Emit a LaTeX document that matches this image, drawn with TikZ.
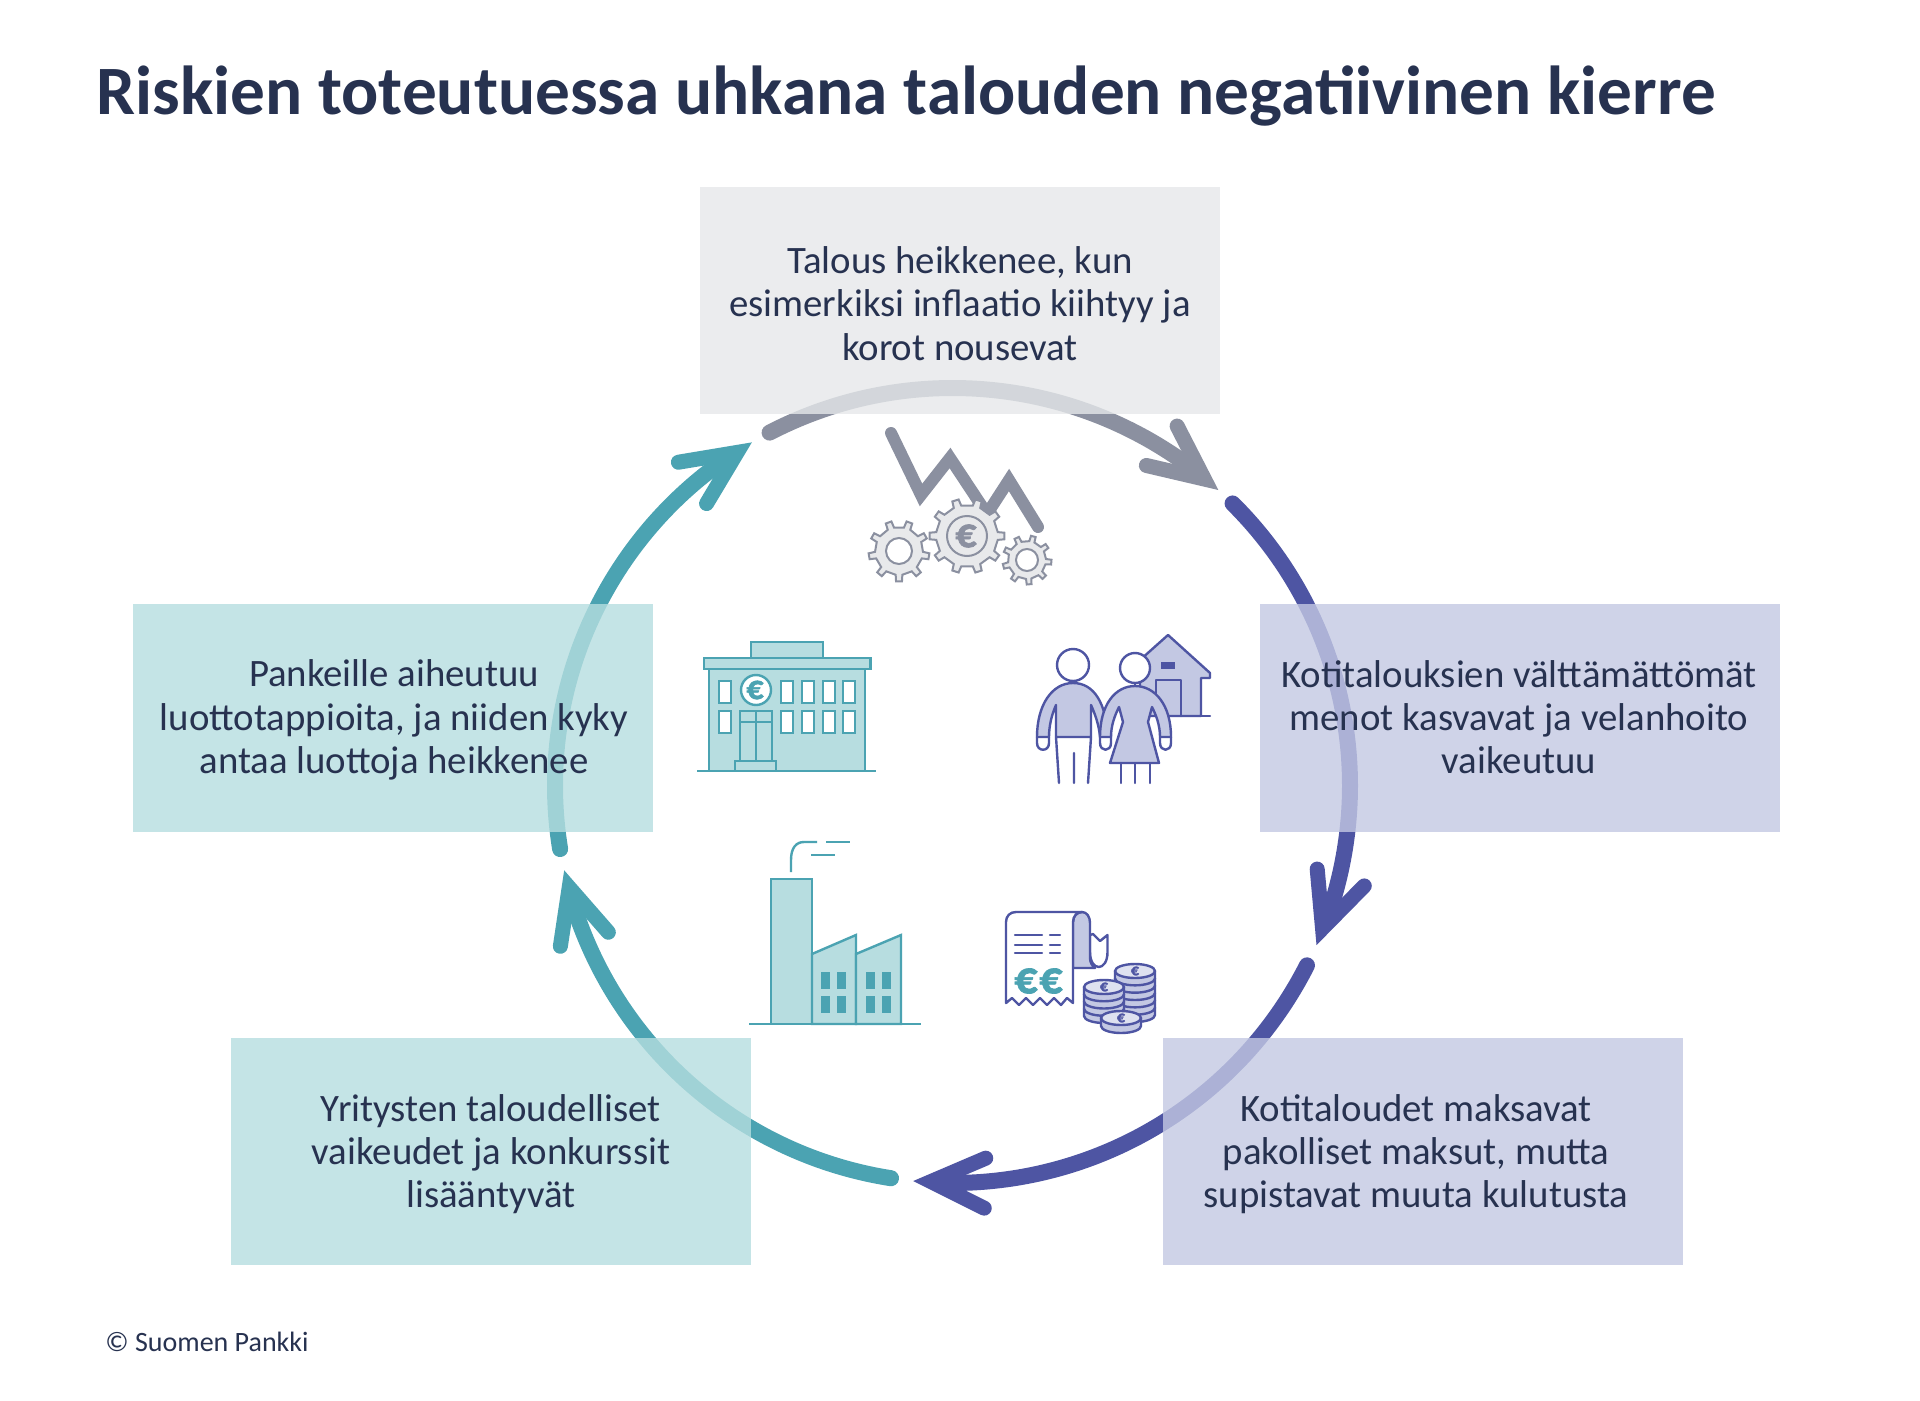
\documentclass[tikz,border=0pt]{standalone}
\usepackage{fontspec}
\setmainfont{Carlito}
\newfontfamily\eurofont[FakeBold=1.5]{Carlito Bold}
\definecolor{ink}{HTML}{273250}
\definecolor{grayA}{HTML}{8B90A0}
\definecolor{blueA}{HTML}{4E55A3}
\definecolor{tealA}{HTML}{4BA3B2}
\definecolor{grayB}{HTML}{E6E8EA}
\definecolor{blueB}{HTML}{C4C9E3}
\definecolor{tealB}{HTML}{B6DEE0}
\definecolor{iconT}{HTML}{B7DDE0}
\definecolor{iconB}{HTML}{C3C8E3}
\definecolor{iconG}{HTML}{E8E9EB}
\tikzset{
 x=0.5pt,y=-0.5pt,
 panel/.style={anchor=north west,inner sep=0pt,minimum width=260pt,minimum height=113.75pt,fill opacity=0.8,draw=none},
 lab/.style={text=ink,align=center,font=\fontsize{19.4}{21.65}\selectfont,inner sep=0pt},
 tealline/.style={draw=tealA,line width=1.2pt,line join=miter},
 blueline/.style={draw=blueA,line width=1.2pt,line join=round,line cap=round},
 grayline/.style={draw=grayA,line width=1pt,line join=miter},
}
\newcommand{\ringarrow}[4]{% colour, start angle, end angle, name
 \pgfmathsetmacro{\sx}{952.5+397.5*cos(#2)}\pgfmathsetmacro{\sy}{785.5+397.5*sin(#2)}
 \pgfmathsetmacro{\tx}{952.5+397.5*cos(#3)}\pgfmathsetmacro{\ty}{785.5+397.5*sin(#3)}
 \coordinate (#4s) at (\sx,\sy);
 \coordinate (#4e) at (\tx,\ty);
 \draw[#1,line width=8pt,line cap=round] (#4s) arc[start angle=#2,end angle=#3-4,radius=397.5];
 \begin{scope}[shift={(#4e)},rotate=-#3-90+4]
  \draw[#1,line width=7.5pt,line cap=round,line join=miter] (-72,-25) -- (-18,0) -- (-72,25);
 \end{scope}
}
\newcommand{\gearshape}[6]{% cx,cy,ro,rr,n,phase
 \begin{scope}[shift={(#1,#2)}]
 \filldraw[fill=iconG,grayline] ({#6-360/#5*0.2}:#4)
  \foreach \k in {1,...,#5}{
   -- ({#6+(\k-1)*360/#5-360/#5*0.2}:#4) -- ({#6+(\k-1)*360/#5-360/#5*0.14}:#3) -- ({#6+(\k-1)*360/#5+360/#5*0.14}:#3) -- ({#6+(\k-1)*360/#5+360/#5*0.2}:#4)
  } -- cycle;
 \end{scope}
}
\newcommand{\coinstack}[4]{% cx, top y, bottom y, layers
 \pgfmathsetmacro{\stepy}{(#3-#2)/#4}
 \foreach \i in {#4,...,1}{
   \pgfmathsetmacro{\yy}{#2+\i*\stepy}
   \filldraw[blueline,fill=iconB] (#1-20,\yy-\stepy) -- (#1-20,\yy) arc[start angle=180,end angle=0,x radius=20,y radius=7] -- (#1+20,\yy-\stepy) -- cycle;
 }
 \filldraw[blueline,fill=iconB!55!white] (#1,#2) ellipse[x radius=20,y radius=7];
 \node[text=blueA,font=\fontsize{8}{8}\eurofont,inner sep=0pt] (c#1) at (#1,#2) {€};
}
\begin{document}
\begin{tikzpicture}
\useasboundingbox (0,0) rectangle (1920,1401);
\fill[white] (0,0) rectangle (1920,1401);
% ring
\ringarrow{grayA}{-117.4}{-48.0}{a}
\ringarrow{blueA}{-45.2}{23.7}{b}
\ringarrow{blueA}{26.9}{95.7}{c}
\ringarrow{tealA}{98.9}{167.7}{d}
\ringarrow{tealA}{170.8}{239.7}{e}
% panels
\node[panel,fill=grayB] (pTop) at (700,186.5) {};
\node[panel,fill=blueB] (pRight) at (1260,604) {};
\node[panel,fill=tealB] (pLeft) at (133,604) {};
\node[panel,fill=tealB] (pBL) at (231,1037.5) {};
\node[panel,fill=blueB] (pBR) at (1163,1037.5) {};
% labels
\node[lab] (tTop) at (960,303.5) {Talous heikkenee, kun\\esimerkiksi inflaatio kiihtyy ja\\korot nousevat};
\node[lab] (tRight) at (1519,717) {Kotitalouksien välttämättömät\\menot kasvavat ja velanhoito\\vaikeutuu};
\node[lab] (tLeft) at (394,720) {Pankeille aiheutuu\\luottotappioita, ja niiden kyky\\antaa luottoja heikkenee};
\node[lab] (tBL) at (491,1154) {Yritysten taloudelliset\\vaikeudet ja konkurssit\\lisääntyvät};
\node[lab] (tBR) at (1416,1154) {Kotitaloudet maksavat\\pakolliset maksut, mutta\\supistavat muuta kulutusta};
\node[anchor=base west,inner sep=0pt,text=ink,font=\fontsize{34.65}{34.65}\selectfont\bfseries] (title) at (96,115) {Riskien toteutuessa uhkana talouden negatiivinen kierre};
\node[anchor=base west,inner sep=0pt,text=ink,font=\fontsize{14}{14}\selectfont] (copy) at (105,1351) {© Suomen Pankki};
% zigzag and gears
\draw[grayA,line width=6pt,line cap=round,line join=miter] (891,433) -- (921,495) -- (950,458) -- (987,514) -- (1009,480) -- (1038,527);
\gearshape{899}{551}{30.5}{24}{9}{10}
\gearshape{967}{536}{37.5}{31}{10}{0}
\gearshape{1027}{560}{24.5}{19}{9}{5}
\filldraw[fill=white,grayline] (899,551) circle[radius=13];
\filldraw[fill=white,grayline] (1027,560) circle[radius=11];
\draw[grayline] (967,536) circle[radius=20];
\node[text=grayA,font=\fontsize{21}{21}\eurofont,inner sep=0pt] (gEuro) at (966,536) {€};
% bank
\begin{scope}[shift={(0,-1)}]
\filldraw[tealline,fill=iconT] (751,643) rectangle (823,659);
\filldraw[tealline,fill=iconT] (709,670) rectangle (865,772);
\filldraw[tealline,fill=iconT] (704,659) rectangle (870.5,670);
\foreach \wx/\wi in {719/a,781/b,802/c,823/d,843/e}{
 \filldraw[tealline,fill=white] (\wx,682) rectangle ++(12,22);
 \filldraw[tealline,fill=white] (\wx,712) rectangle ++(12,22);
}
\filldraw[tealline,fill=white] (756,691) circle[radius=15];
\node[text=tealA,font=\fontsize{17}{17}\eurofont,inner sep=0pt] (bEuro) at (755,691) {€};
\draw[tealline] (740,762) -- (740,712) -- (772,712) -- (772,762) (740,723) -- (772,723) (756,712) -- (756,762);
\filldraw[tealline,fill=iconT] (735,772) -- (735,762) -- (776,762) -- (776,772);
\draw[tealline] (697,772) -- (876,772);
\end{scope}
% factory
\filldraw[tealline,fill=iconT] (771,1024) -- (771,879) -- (812,879) -- (812,1024) -- cycle;
\filldraw[tealline,fill=iconT] (812,1024) -- (812,954) -- (856,935) -- (856,1024) -- cycle;
\filldraw[tealline,fill=iconT] (856,1024) -- (856,954) -- (901,935) -- (901,1024) -- cycle;
\foreach \wx in {821,836.5,866,882}{
 \fill[tealA] (\wx,972) rectangle ++(9,17);
 \fill[tealA] (\wx,996) rectangle ++(9,17);
}
\draw[tealline] (749,1024) -- (921,1024);
\draw[tealline] (791,872) -- (791,860) .. controls (791,848) and (796,842) .. (804,842) -- (817,842);
\draw[tealline] (826,842) -- (850,842) (811,855) -- (835,855);
% family
\filldraw[blueline,fill=iconB] (1140,660) -- (1168,635) -- (1210,673) -- (1210,678) -- (1201,678) -- (1201,716) -- (1140,716) -- cycle;
\draw[blueline] (1156,716) -- (1156,680) -- (1181,680) -- (1181,716) (1201,716) -- (1210,716);
\fill[blueA] (1161,662) rectangle (1175,669);
\draw[blueline] (1056,737) -- (1059,783) (1091,737) -- (1088,783) (1074,753) -- (1074,783);
\draw[blueline,fill=white] (1037,737) -- (1037,743) .. controls (1037,752) and (1049,752) .. (1049,743) -- (1049,737);
\filldraw[blueline,fill=iconB] (1037,737) .. controls (1037,705) and (1052,683) .. (1073,683) .. controls (1094,683) and (1106,703) .. (1108,737) -- (1100,737) .. controls (1099,725) and (1095,714) .. (1091,705) -- (1091,737) -- (1056,737) -- (1056,705) .. controls (1052,714) and (1049,725) .. (1049,737) -- cycle;
\draw[blueline,fill=white] (1073,665) circle[radius=16];
\draw[blueline] (1121,763) -- (1121,783) (1135,763) -- (1135,783) (1150,763) -- (1150,783) (1135,684) -- (1135,690);
\draw[blueline,fill=white] (1100,737) -- (1100,743) .. controls (1100,752) and (1111,752) .. (1111,743) -- (1111,737);
\draw[blueline,fill=white] (1160,737) -- (1160,743) .. controls (1160,752) and (1171,752) .. (1171,743) -- (1171,737);
\filldraw[blueline,fill=iconB] (1100,737) .. controls (1100,705) and (1115,686) .. (1135,686) .. controls (1155,686) and (1171,705) .. (1171,737) -- (1160,737) .. controls (1160,725) and (1156,715) .. (1152,707) -- (1148,722) -- (1159,763) -- (1110,763) -- (1123,722) -- (1119,707) .. controls (1115,715) and (1111,725) .. (1111,737) -- cycle;
\draw[blueline,fill=white] (1135,668) circle[radius=15];
% receipt
\filldraw[blueline,fill=white] (1090,935) -- (1093,934) -- (1100,941) -- (1107.5,935) -- (1107.5,952) .. controls (1107.5,972) and (1090,972) .. (1090,952) -- cycle;
\filldraw[blueline,fill=iconB] (1082,912) .. controls (1087,912) and (1090,917) .. (1090,923) -- (1090,958) .. controls (1090,962) and (1092,966) .. (1095,968) -- (1073,968) -- (1073,922) .. controls (1073,916) and (1077,912) .. (1082,912) -- cycle;
\filldraw[blueline,fill=white] (1073,1003) -- (1073,922) .. controls (1073,916) and (1077,912) .. (1082,912) -- (1016,912) .. controls (1010,912) and (1006,916) .. (1006,922) -- (1006,1003) -- (1012,998) -- (1019,1005) -- (1026,998) -- (1033,1005) -- (1040,998) -- (1047,1005) -- (1054,998) -- (1061,1005) -- (1067,998) -- cycle;
\draw[blueline] (1015,935) -- (1042,935) (1015,945) -- (1042,945) (1015,953) -- (1042,953) (1050,935) -- (1060,935) (1050,945) -- (1060,945) (1050,953) -- (1060,953);
\node[text=tealA,font=\fontsize{23}{23}\eurofont,inner sep=0pt] (re1) at (1026,981) {€};
\node[text=tealA,font=\fontsize{23}{23}\eurofont,inner sep=0pt] (re2) at (1051,981) {€};
% coins
\coinstack{1135}{971}{1015}{6}
\coinstack{1104}{987}{1016}{4}
\coinstack{1121}{1018}{1026}{1}
\end{tikzpicture}
\end{document}
